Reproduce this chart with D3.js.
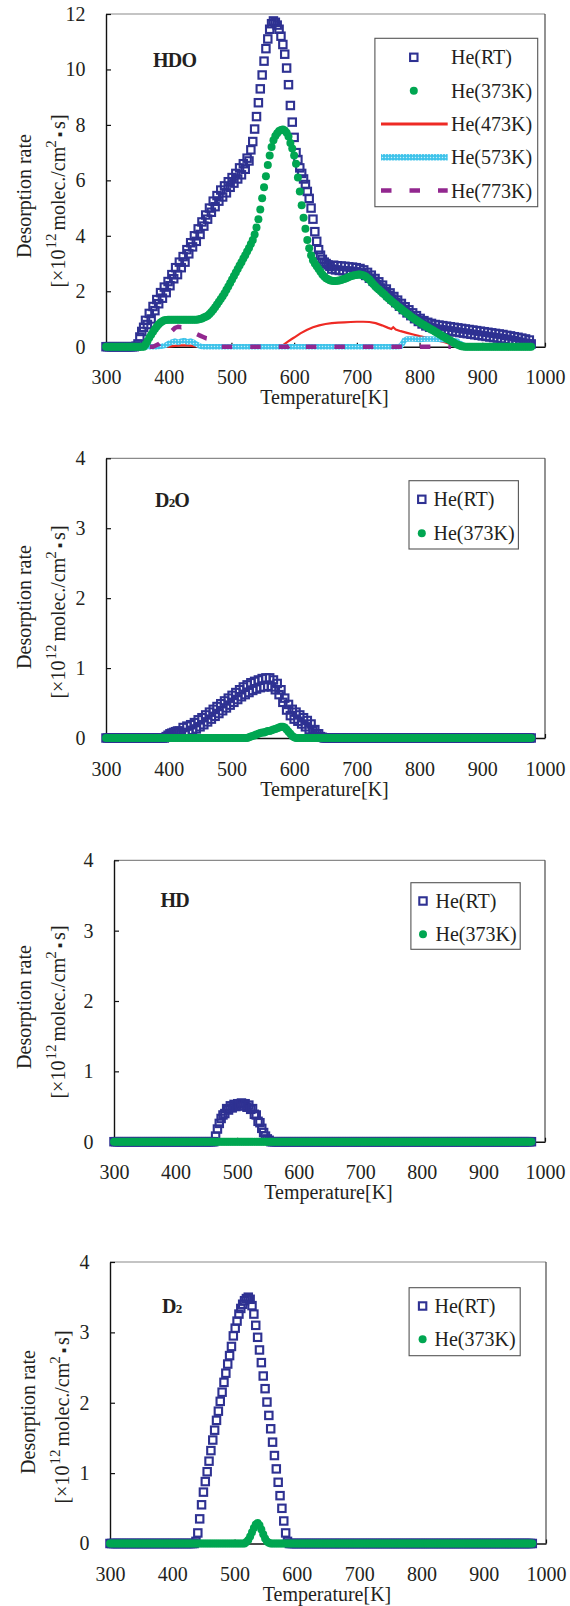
<!DOCTYPE html>
<html>
<head>
<meta charset="utf-8">
<script src="https://cdn.jsdelivr.net/npm/d3@7"></script>
<style>
  html, body { margin: 0; padding: 0; background: #fff; }
  svg { display: block; }
  text { font-family: "Liberation Serif", "Times New Roman", Times, serif; fill: #231f20; }
</style>
</head>
<body>
<svg id="chart" width="570" height="1606"></svg>
<script>
// ---------------------------------------------------------------
// Thermal desorption spectra after He implantation at various
// temperatures. Sampling grid: 300 K to 978 K in 3 K steps.
// ---------------------------------------------------------------
const temperatureK = d3.range(300, 979, 3);

const xTickValues = [300, 400, 500, 600, 700, 800, 900, 1000];

const seriesLabels = ["He(RT)", "He(373K)", "He(473K)", "He(573K)", "He(773K)"];

// HDO, He(RT)
const hdoRT = [
  0,0,0,0,0,0,0,0,0,0,
  0,0,0,0,0,0,0.02,0.1,0.35,0.55,
  0.7,0.95,0.8,1.2,1.0,1.45,1.3,1.7,1.55,1.95,
  1.75,2.15,1.95,2.35,2.2,2.6,2.45,2.85,2.6,3.05,
  2.85,3.25,3.05,3.5,3.35,3.75,3.6,4.0,3.8,4.25,
  4.05,4.5,4.35,4.75,4.6,5.0,4.85,5.25,5.05,5.45,
  5.25,5.65,5.4,5.8,5.55,5.95,5.75,6.1,5.9,6.25,
  6.05,6.45,6.2,6.6,6.4,6.8,6.7,7.1,7.4,7.85,
  8.3,8.8,9.3,9.8,10.3,10.75,11.1,11.45,11.65,11.75,
  11.7,11.6,11.45,11.2,10.9,10.55,10.05,9.45,8.7,8.1,
  7.55,7.0,6.75,6.45,6.25,6.05,5.85,5.6,5.35,5.0,
  4.6,4.15,3.8,3.5,3.3,3.15,3.05,3.0,2.95,2.9,
  2.8,2.94,2.77,2.92,2.75,2.91,2.74,2.9,2.73,2.88,
  2.72,2.87,2.7,2.85,2.68,2.82,2.64,2.77,2.57,2.68,
  2.47,2.58,2.36,2.46,2.24,2.34,2.12,2.22,1.99,2.08,
  1.85,1.94,1.72,1.81,1.59,1.68,1.46,1.56,1.34,1.44,
  1.22,1.33,1.12,1.22,1.01,1.12,0.91,1.02,0.82,0.94,
  0.75,0.88,0.7,0.84,0.66,0.8,0.63,0.78,0.61,0.76,
  0.59,0.74,0.57,0.72,0.55,0.7,0.53,0.68,0.51,0.66,
  0.49,0.64,0.47,0.62,0.45,0.6,0.43,0.58,0.41,0.56,
  0.39,0.54,0.37,0.52,0.35,0.5,0.33,0.48,0.31,0.46,
  0.29,0.44,0.27,0.41,0.24,0.39,0.22,0.36,0.19,0.34,
  0.16,0.31,0.13,0.28,0.1,0.24,0.1
];

// HDO, He(373K)
const hdo373 = [
  0,0,0,0,0,0,0,0,0,0,
  0,0,0,0,0,0,0,0,0,0,
  0,0.08,0.2,0.32,0.43,0.54,0.64,0.73,0.81,0.87,
  0.92,0.95,0.96,0.97,0.97,0.97,0.97,0.97,0.97,0.97,
  0.97,0.97,0.97,0.97,0.97,0.97,0.97,0.97,0.97,0.98,
  1.0,1.02,1.05,1.08,1.12,1.18,1.25,1.33,1.42,1.52,
  1.62,1.72,1.82,1.93,2.05,2.17,2.3,2.42,2.55,2.68,
  2.8,2.93,3.05,3.18,3.3,3.43,3.56,3.7,3.85,4.05,
  4.3,4.6,4.95,5.35,5.75,6.15,6.55,6.9,7.2,7.45,
  7.6,7.7,7.78,7.82,7.83,7.8,7.72,7.58,7.35,7.15,
  6.9,6.6,6.1,5.6,5.1,4.65,4.25,3.85,3.55,3.3,
  3.12,3.0,2.9,2.8,2.7,2.6,2.53,2.47,2.43,2.4,
  2.38,2.37,2.37,2.38,2.39,2.41,2.43,2.45,2.48,2.51,
  2.54,2.56,2.58,2.59,2.6,2.6,2.59,2.57,2.53,2.48,
  2.42,2.34,2.26,2.19,2.12,2.06,2.0,1.94,1.88,1.81,
  1.75,1.69,1.63,1.58,1.52,1.46,1.41,1.36,1.3,1.25,
  1.2,1.15,1.09,1.04,1.0,0.95,0.91,0.86,0.82,0.78,
  0.74,0.7,0.66,0.62,0.58,0.54,0.5,0.46,0.42,0.38,
  0.34,0.3,0.26,0.22,0.18,0.14,0.1,0.07,0.04,0.02,
  0.01,0,0,0,0,0,0,0,0,0,
  0,0,0,0,0,0,0,0,0,0,
  0,0,0,0,0,0,0,0,0,0,
  0,0,0,0,0,0,0
];

// HDO, He(473K) — own temperature samples
const hdo473Temps = [380,390,400,410,420,430,440,450,460,480,500,520,540,560,575,580,585,590,595,600,
  610,620,630,640,650,660,670,680,690,700,710,720,730,740,750,755,758,762,770,780,
  790,800,810,820,830,840,850,860,870,880];
const hdo473 = [0,0,0,0.03,0.05,0.05,0.02,0,0,0,0,0,0,0,0,0.02,0.1,0.18,0.26,0.33,
  0.48,0.6,0.7,0.77,0.82,0.85,0.87,0.88,0.89,0.9,0.9,0.89,0.85,0.77,0.68,0.64,0.7,0.62,0.56,0.5,
  0.44,0.38,0.33,0.28,0.22,0.16,0.09,0.03,0,0];

// HDO, He(573K)
const hdo573Temps = [360,370,380,390,395,400,405,410,415,420,425,430,435,440,445,450,455,460,500,550,
  600,650,700,750,765,770,773,776,780,790,800,810,820,830,840,850,855,860,865,870,875,885,893];
const hdo573 = [0,0,0,0.02,0.05,0.12,0.17,0.2,0.16,0.2,0.22,0.17,0.2,0.15,0.08,0.02,0,0,0,0,
  0,0,0,0,0,0.02,0.12,0.24,0.28,0.28,0.26,0.28,0.28,0.27,0.25,0.24,0.22,0.2,0.12,0.05,0,0,0];

// HDO, He(773K)
const hdo773Temps = [370,375,380,385,390,400,410,415,420,425,430,440,450,455,460,465,470,475,480,500,
  550,590,595,600,605,610,650,700,750,800,850];
const hdo773 = [0,0,0.05,0.1,0.2,0.45,0.68,0.72,0.7,0.72,0.65,0.5,0.4,0.35,0.3,0.28,0.15,0.05,0,0,
  0,0,0.08,0.1,0.05,0,0,0,0,0,0];

// D2O, He(RT)
const d2oRT = [
  0,0,0,0,0,0,0,0,0,0,
  0,0,0,0,0,0,0,0,0,0,
  0,0,0,0,0,0,0,0,0,0,
  0,0,0.02,0.04,0.06,0.07,0.08,0.09,0.1,0.1,
  0.07,0.15,0.07,0.17,0.08,0.19,0.11,0.22,0.13,0.26,
  0.16,0.29,0.19,0.33,0.23,0.37,0.27,0.41,0.31,0.45,
  0.35,0.49,0.39,0.53,0.43,0.57,0.47,0.61,0.51,0.65,
  0.55,0.69,0.59,0.73,0.62,0.76,0.65,0.79,0.68,0.81,
  0.7,0.83,0.72,0.85,0.73,0.86,0.74,0.86,0.73,0.83,
  0.69,0.78,0.62,0.69,0.51,0.57,0.4,0.48,0.32,0.41,
  0.27,0.37,0.24,0.33,0.2,0.29,0.16,0.25,0.12,0.2,
  0.1,0.12,0.06,0.06,0.02,0.01,0,0,0,0,
  0,0,0,0,0,0,0,0,0,0,
  0,0,0,0,0,0,0,0,0,0,
  0,0,0,0,0,0,0,0,0,0,
  0,0,0,0,0,0,0,0,0,0,
  0,0,0,0,0,0,0,0,0,0,
  0,0,0,0,0,0,0,0,0,0,
  0,0,0,0,0,0,0,0,0,0,
  0,0,0,0,0,0,0,0,0,0,
  0,0,0,0,0,0,0,0,0,0,
  0,0,0,0,0,0,0,0,0,0,
  0,0,0,0,0,0,0
];

// D2O, He(373K)
const d2o373 = [
  0,0,0,0,0,0,0,0,0,0,
  0,0,0,0,0,0,0,0,0,0,
  0,0,0,0,0,0,0,0,0,0,
  0,0,0,0,0,0,0,0,0,0,
  0,0,0,0,0,0,0,0,0,0,
  0,0,0,0,0,0,0,0,0,0,
  0,0,0,0,0,0,0,0,0,0,
  0,0,0,0,0,0,0.01,0.02,0.03,0.04,
  0.05,0.06,0.07,0.08,0.08,0.09,0.1,0.1,0.11,0.12,
  0.13,0.14,0.15,0.16,0.16,0.15,0.12,0.09,0.06,0.03,
  0.01,0,0,0,0,0,0,0,0,0,
  0,0,0,0,0,0,0,0,0,0,
  0,0,0,0,0,0,0,0,0,0,
  0,0,0,0,0,0,0,0,0,0,
  0,0,0,0,0,0,0,0,0,0,
  0,0,0,0,0,0,0,0,0,0,
  0,0,0,0,0,0,0,0,0,0,
  0,0,0,0,0,0,0,0,0,0,
  0,0,0,0,0,0,0,0,0,0,
  0,0,0,0,0,0,0,0,0,0,
  0,0,0,0,0,0,0,0,0,0,
  0,0,0,0,0,0,0,0,0,0,
  0,0,0,0,0,0,0
];

// HD, He(RT)
const hdRT = [
  0,0,0,0,0,0,0,0,0,0,
  0,0,0,0,0,0,0,0,0,0,
  0,0,0,0,0,0,0,0,0,0,
  0,0,0,0,0,0,0,0,0,0,
  0,0,0,0,0,0,0,0,0,0,
  0,0,0,0,0,0.08,0.18,0.26,0.33,0.38,
  0.4,0.47,0.45,0.51,0.48,0.53,0.5,0.54,0.51,0.55,
  0.51,0.54,0.49,0.52,0.46,0.47,0.39,0.38,0.29,0.27,
  0.19,0.13,0.08,0.04,0.02,0,0,0,0,0,
  0,0,0,0,0,0,0,0,0,0,
  0,0,0,0,0,0,0,0,0,0,
  0,0,0,0,0,0,0,0,0,0,
  0,0,0,0,0,0,0,0,0,0,
  0,0,0,0,0,0,0,0,0,0,
  0,0,0,0,0,0,0,0,0,0,
  0,0,0,0,0,0,0,0,0,0,
  0,0,0,0,0,0,0,0,0,0,
  0,0,0,0,0,0,0,0,0,0,
  0,0,0,0,0,0,0,0,0,0,
  0,0,0,0,0,0,0,0,0,0,
  0,0,0,0,0,0,0,0,0,0,
  0,0,0,0,0,0,0,0,0,0,
  0,0,0,0,0,0,0
];

// HD, He(373K)
const hd373 = [
  0,0,0,0,0,0,0,0,0,0,
  0,0,0,0,0,0,0,0,0,0,
  0,0,0,0,0,0,0,0,0,0,
  0,0,0,0,0,0,0,0,0,0,
  0,0,0,0,0,0,0,0,0,0,
  0,0,0,0,0,0,0,0,0,0,
  0,0,0,0,0,0,0,0,0,0,
  0,0,0,0,0,0,0,0,0,0,
  0,0,0,0,0,0,0,0,0,0,
  0,0,0,0,0,0,0,0,0,0,
  0,0,0,0,0,0,0,0,0,0,
  0,0,0,0,0,0,0,0,0,0,
  0,0,0,0,0,0,0,0,0,0,
  0,0,0,0,0,0,0,0,0,0,
  0,0,0,0,0,0,0,0,0,0,
  0,0,0,0,0,0,0,0,0,0,
  0,0,0,0,0,0,0,0,0,0,
  0,0,0,0,0,0,0,0,0,0,
  0,0,0,0,0,0,0,0,0,0,
  0,0,0,0,0,0,0,0,0,0,
  0,0,0,0,0,0,0,0,0,0,
  0,0,0,0,0,0,0,0,0,0,
  0,0,0,0,0,0,0
];

// D2, He(RT)
const d2RT = [
  0,0,0,0,0,0,0,0,0,0,
  0,0,0,0,0,0,0,0,0,0,
  0,0,0,0,0,0,0,0,0,0,
  0,0,0,0,0,0,0,0,0,0,
  0,0,0,0,0,0,0.03,0.15,0.35,0.55,
  0.73,0.88,1.02,1.17,1.32,1.47,1.61,1.75,1.88,2.02,
  2.15,2.29,2.42,2.55,2.67,2.8,2.95,3.06,3.16,3.26,
  3.34,3.4,3.45,3.48,3.5,3.47,3.38,3.26,3.1,2.93,
  2.75,2.57,2.38,2.2,2.01,1.82,1.63,1.44,1.25,1.06,
  0.87,0.68,0.5,0.32,0.15,0.03,0,0,0,0,
  0,0,0,0,0,0,0,0,0,0,
  0,0,0,0,0,0,0,0,0,0,
  0,0,0,0,0,0,0,0,0,0,
  0,0,0,0,0,0,0,0,0,0,
  0,0,0,0,0,0,0,0,0,0,
  0,0,0,0,0,0,0,0,0,0,
  0,0,0,0,0,0,0,0,0,0,
  0,0,0,0,0,0,0,0,0,0,
  0,0,0,0,0,0,0,0,0,0,
  0,0,0,0,0,0,0,0,0,0,
  0,0,0,0,0,0,0,0,0,0,
  0,0,0,0,0,0,0,0,0,0,
  0,0,0,0,0,0,0
];

// D2, He(373K)
const d2373 = [
  0,0,0,0,0,0,0,0,0,0,
  0,0,0,0,0,0,0,0,0,0,
  0,0,0,0,0,0,0,0,0,0,
  0,0,0,0,0,0,0,0,0,0,
  0,0,0,0,0,0,0,0,0,0,
  0,0,0,0,0,0,0,0,0,0,
  0,0,0,0,0,0,0,0,0,0,
  0,0,0,0.02,0.05,0.1,0.16,0.22,0.27,0.29,
  0.26,0.2,0.13,0.07,0.03,0.01,0,0,0,0,
  0,0,0,0,0,0,0,0,0,0,
  0,0,0,0,0,0,0,0,0,0,
  0,0,0,0,0,0,0,0,0,0,
  0,0,0,0,0,0,0,0,0,0,
  0,0,0,0,0,0,0,0,0,0,
  0,0,0,0,0,0,0,0,0,0,
  0,0,0,0,0,0,0,0,0,0,
  0,0,0,0,0,0,0,0,0,0,
  0,0,0,0,0,0,0,0,0,0,
  0,0,0,0,0,0,0,0,0,0,
  0,0,0,0,0,0,0,0,0,0,
  0,0,0,0,0,0,0,0,0,0,
  0,0,0,0,0,0,0,0,0,0,
  0,0,0,0,0,0,0
];

// ---------------------------------------------------------------
// Styles
// ---------------------------------------------------------------
const COLOR_RT = "#2E3192";
const COLOR_373 = "#00A651";
const COLOR_473 = "#EE2A24";
const COLOR_573 = "#3EC3EA";
const COLOR_773 = "#92278F";
const SERIF = '"Liberation Serif", "Times New Roman", Times, serif';

// ---------------------------------------------------------------
// Panel layout (one entry per species)
// ---------------------------------------------------------------
const panels = [
  {
    name: [{t: "HDO"}], nameAt: [153, 67],
    box: {left: 106, right: 545, top: 14, bottom: 346.7},
    yMax: 12, yTicks: [0, 2, 4, 6, 8, 10, 12],
    yLabel: {x1: 31, x2: 65, cy: 196},
    rt: hdoRT, k373: hdo373,
    lines: [
      {kind: "solid",   temps: hdo473Temps, values: hdo473},
      {kind: "texture", temps: hdo573Temps, values: hdo573},
      {kind: "dash",    temps: hdo773Temps, values: hdo773}
    ],
    legend: {x0: 374.9, x1: 537.7, y0: 38.3, y1: 206.7, rows: [57.3, 90.7, 124, 157.3, 190.6],
             sym: 413.8, lineFrom: 381, lineTo: 447.7, textX: 451, entries: 5}
  },
  {
    name: [{t: "D"}, {t: "2", small: true}, {t: "O"}], nameAt: [155, 507],
    box: {left: 106, right: 545, top: 458.3, bottom: 738},
    yMax: 4, yTicks: [0, 1, 2, 3, 4],
    yLabel: {x1: 31, x2: 65, cy: 607},
    rt: d2oRT, k373: d2o373, lines: [],
    legend: {x0: 409, x1: 518.4, y0: 480.7, y1: 549, rows: [499.3, 533.3],
             sym: 421.8, textX: 433.5, entries: 2}
  },
  {
    name: [{t: "HD"}], nameAt: [160.6, 907],
    box: {left: 114, right: 545, top: 860.3, bottom: 1141.7},
    yMax: 4, yTicks: [0, 1, 2, 3, 4],
    yLabel: {x1: 31, x2: 65, cy: 1007},
    rt: hdRT, k373: hd373, lines: [],
    legend: {x0: 410.9, x1: 520.2, y0: 882.7, y1: 949.3, rows: [901, 934.3],
             sym: 423, textX: 435.5, entries: 2}
  },
  {
    name: [{t: "D"}, {t: "2", small: true}], nameAt: [162, 1313],
    box: {left: 110, right: 546, top: 1262, bottom: 1543.5},
    yMax: 4, yTicks: [0, 1, 2, 3, 4],
    yLabel: {x1: 34.5, x2: 69, cy: 1412},
    rt: d2RT, k373: d2373, lines: [],
    legend: {x0: 409.1, x1: 520.2, y0: 1287.7, y1: 1355.7, rows: [1306, 1339.3],
             sym: 422.6, textX: 434.5, entries: 2}
  }
];

// ---------------------------------------------------------------
// Drawing
// ---------------------------------------------------------------
const svg = d3.select("#chart");
const defs = svg.append("defs");

// dotted texture used for the He(573K) trace
const pat = defs.append("pattern")
  .attr("id", "dotTexture")
  .attr("patternUnits", "userSpaceOnUse")
  .attr("width", 3).attr("height", 3);
pat.append("rect").attr("width", 3).attr("height", 3).attr("fill", COLOR_573);
pat.append("circle").attr("cx", 1.5).attr("cy", 1.5).attr("r", 0.75).attr("fill", "#C8EEFA");

function styleLine(sel, kind, legend) {
  if (kind === "solid") {
    sel.attr("stroke", COLOR_473).attr("stroke-width", legend ? 3 : 2.2);
  } else if (kind === "texture") {
    sel.attr("stroke", "url(#dotTexture)").attr("stroke-width", legend ? 6.5 : 5.5);
  } else {
    sel.attr("stroke", COLOR_773).attr("stroke-width", 4.5)
       .attr("stroke-dasharray", "10.5,18");
  }
  return sel.attr("fill", "none");
}

const SQ = 7.4;   // inner size of hollow square markers
const SQW = 2.1;  // square outline width
const CR = 4;     // radius of filled circle markers

panels.forEach(p => {
  const x = d3.scaleLinear().domain([300, 1000]).range([p.box.left, p.box.right]);
  const y = d3.scaleLinear().domain([0, p.yMax]).range([p.box.bottom, p.box.top]);
  const g = svg.append("g");

  // top and right frame
  g.append("line")
    .attr("x1", p.box.left).attr("x2", p.box.right)
    .attr("y1", p.box.top).attr("y2", p.box.top)
    .attr("stroke", "#8a8a8a").attr("stroke-width", 1.2);
  g.append("line")
    .attr("x1", p.box.right).attr("x2", p.box.right)
    .attr("y1", p.box.top).attr("y2", p.box.bottom)
    .attr("stroke", "#4a4a4a").attr("stroke-width", 1.2);

  // axes with inward ticks
  const xAxis = g.append("g")
    .attr("transform", `translate(0,${p.box.bottom})`)
    .call(d3.axisBottom(x).tickValues(xTickValues).tickSize(-4).tickSizeOuter(0)
      .tickPadding(23.6).tickFormat(d3.format("d")));
  const yAxis = g.append("g")
    .attr("transform", `translate(${p.box.left},0)`)
    .call(d3.axisLeft(y).tickValues(p.yTicks).tickSize(-5).tickSizeOuter(0)
      .tickPadding(20.5).tickFormat(d3.format("d")));
  [xAxis, yAxis].forEach(a => {
    a.attr("font-family", SERIF).attr("font-size", 20).attr("color", "#111");
    a.select(".domain").attr("stroke-width", 1.4);
    a.selectAll(".tick line").attr("stroke-width", 1.2);
    a.selectAll(".tick text").attr("fill", "#231f20");
  });

  // traces drawn as lines
  const lineGen = d3.line().x(d => x(d[0])).y(d => y(d[1]));
  p.lines.forEach(s => {
    const pts = s.temps.map((t, i) => [t, s.values[i]]);
    styleLine(g.append("path").attr("d", lineGen(pts)), s.kind, false);
  });

  // He(RT): hollow squares
  g.append("g").selectAll("rect")
    .data(temperatureK.map((t, i) => [t, p.rt[i]]))
    .join("rect")
    .attr("x", d => x(d[0]) - SQ / 2)
    .attr("y", d => y(d[1]) - SQ / 2)
    .attr("width", SQ).attr("height", SQ)
    .attr("fill", "none").attr("stroke", COLOR_RT).attr("stroke-width", SQW);

  // He(373K): filled circles
  g.append("g").selectAll("circle")
    .data(temperatureK.map((t, i) => [t, p.k373[i]]))
    .join("circle")
    .attr("cx", d => x(d[0]))
    .attr("cy", d => y(d[1]))
    .attr("r", CR)
    .attr("fill", COLOR_373);

  // species name
  const nm = g.append("text")
    .attr("x", p.nameAt[0]).attr("y", p.nameAt[1])
    .attr("font-size", 20).attr("font-weight", "bold").attr("letter-spacing", -0.8);
  p.name.forEach(part => {
    nm.append("tspan").attr("font-size", part.small ? 13 : 20).text(part.t);
  });

  // axis titles
  g.append("text")
    .attr("x", (p.box.left + p.box.right) / 2 - 1)
    .attr("y", p.box.bottom + 57.5)
    .attr("text-anchor", "middle").attr("font-size", 20)
    .text("Temperature[K]");

  g.append("text")
    .attr("transform", `translate(${p.yLabel.x1},${p.yLabel.cy}) rotate(-90)`)
    .attr("text-anchor", "middle").attr("font-size", 20)
    .text("Desorption rate");

  const unit = g.append("text")
    .attr("transform", `translate(${p.yLabel.x2},${p.yLabel.cy + 5}) rotate(-90)`)
    .attr("text-anchor", "middle").attr("font-size", 20);
  unit.append("tspan").text("[×10");
  unit.append("tspan").attr("font-size", 15).attr("dy", -9).attr("dx", 1).text("12");
  unit.append("tspan").attr("dy", 9).attr("dx", 3).text("molec./cm");
  unit.append("tspan").attr("font-size", 15).attr("dy", -9).attr("dx", -1).text("2");
  unit.append("tspan").attr("dy", 9).attr("font-size", 15).attr("dx", 3).text("▪");
  unit.append("tspan").attr("dx", 3).text("s]");

  // legend
  const L = p.legend;
  const lg = g.append("g");
  lg.append("rect")
    .attr("x", L.x0).attr("y", L.y0)
    .attr("width", L.x1 - L.x0).attr("height", L.y1 - L.y0)
    .attr("fill", "#fff").attr("stroke", "#555").attr("stroke-width", 1.1);
  const kinds = ["square", "circle", "solid", "texture", "dash"];
  for (let i = 0; i < L.entries; i++) {
    const ry = L.rows[i];
    const k = kinds[i];
    if (k === "square") {
      lg.append("rect").attr("x", L.sym - SQ / 2).attr("y", ry - SQ / 2)
        .attr("width", SQ).attr("height", SQ)
        .attr("fill", "none").attr("stroke", COLOR_RT).attr("stroke-width", SQW);
    } else if (k === "circle") {
      lg.append("circle").attr("cx", L.sym).attr("cy", ry).attr("r", CR).attr("fill", COLOR_373);
    } else {
      styleLine(lg.append("line")
        .attr("x1", L.lineFrom).attr("x2", L.lineTo)
        .attr("y1", ry).attr("y2", ry), k, true);
    }
    lg.append("text").attr("x", L.textX).attr("y", ry + 7)
      .attr("font-size", 20).text(seriesLabels[i]);
  }
});
</script>
</body>
</html>
